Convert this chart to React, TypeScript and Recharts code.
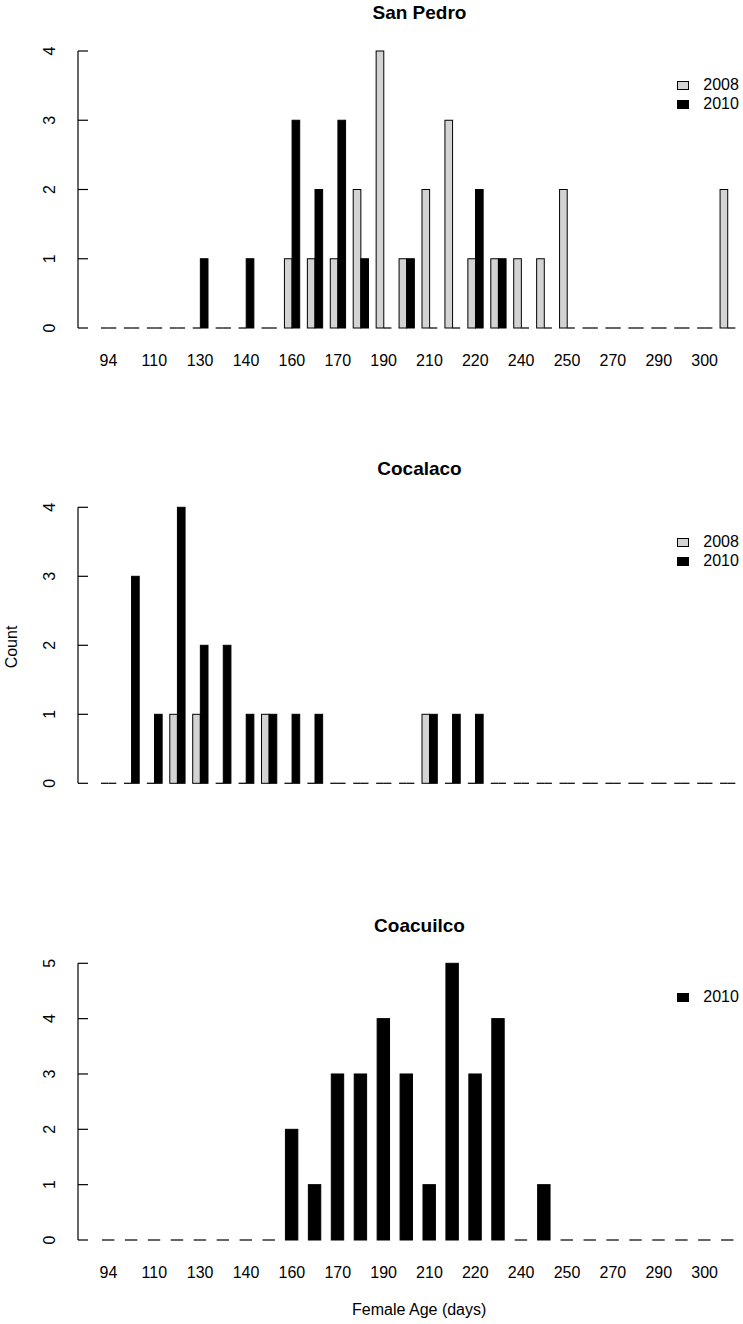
import React from 'react';
import { BarChart, Bar, XAxis, YAxis, Legend } from 'recharts';

// Female age classes (days); odd ones are hidden by the axis like in the original
const AGES = [94, 100, 110, 120, 130, 135, 140, 150, 160, 165, 170, 180, 190, 200, 210, 215, 220, 230, 240, 245, 250, 260, 270, 280, 290, 295, 300, 310];

// San Pedro counts
const SAN_PEDRO_2008 = [0, 0, 0, 0, 0, 0, 0, 0, 1, 1, 1, 2, 4, 1, 2, 3, 1, 1, 1, 1, 2, 0, 0, 0, 0, 0, 0, 2];
const SAN_PEDRO_2010 = [0, 0, 0, 0, 1, 0, 1, 0, 3, 2, 3, 1, 0, 1, 0, 0, 2, 1, 0, 0, 0, 0, 0, 0, 0, 0, 0, 0];

// Cocalaco counts
const COCALACO_2008 = [0, 0, 0, 1, 1, 0, 0, 1, 0, 0, 0, 0, 0, 0, 1, 0, 0, 0, 0, 0, 0, 0, 0, 0, 0, 0, 0, 0];
const COCALACO_2010 = [0, 3, 1, 4, 2, 2, 1, 1, 1, 1, 0, 0, 0, 0, 1, 1, 1, 0, 0, 0, 0, 0, 0, 0, 0, 0, 0, 0];

// Coacuilco counts (2010 only)
const COACUILCO_2010 = [0, 0, 0, 0, 0, 0, 0, 0, 2, 1, 3, 3, 4, 3, 1, 5, 3, 4, 0, 1, 0, 0, 0, 0, 0, 0, 0, 0];

const TICKS_4 = [0, 1, 2, 3, 4];
const TICKS_5 = [0, 1, 2, 3, 4, 5];

const FONT = '"Liberation Sans", Arial, Helvetica, sans-serif';
const GRAY = '#d3d3d3';
const BLACK = '#000000';

const sanPedro = AGES.map((age, i) => ({ age, y2008: SAN_PEDRO_2008[i], y2010: SAN_PEDRO_2010[i] }));
const cocalaco = AGES.map((age, i) => ({ age, y2008: COCALACO_2008[i], y2010: COCALACO_2010[i] }));
const coacuilco = AGES.map((age, i) => ({ age, y2010: COACUILCO_2010[i] }));

// R style bar: bordered rect, zero counts drawn as a flat line
const BarShape = (props: any) => {
  const { x, y, width, height, fill } = props;
  if (!height) {
    return <line x1={x} x2={x + width} y1={y} y2={y} stroke="#111" strokeWidth={1.3} />;
  }
  return <rect x={x} y={y} width={width} height={height} fill={fill} stroke={BLACK} strokeWidth={1} />;
};

// y ticks point inwards, labels rotated like las=0
const YTick = ({ x, y, payload }: any) => (
  <g>
    <line x1={x} x2={x + 10} y1={y} y2={y} stroke={BLACK} strokeWidth={1.2} />
    <text
      x={x - 23}
      y={y}
      transform={`rotate(-90, ${x - 23}, ${y})`}
      textAnchor="middle"
      fontSize={16}
      fontFamily={FONT}
      fill={BLACK}
    >
      {payload.value}
    </text>
  </g>
);

const XTick = ({ x, y, payload }: any) => (
  <text x={x} y={y} textAnchor="middle" fontSize={16} fontFamily={FONT} fill={BLACK}>
    {payload.value}
  </text>
);

const LegendBoxes = ({ payload }: any) => (
  <div style={{ fontFamily: FONT, fontSize: 16, color: BLACK }}>
    {(payload || []).map((p: any) => (
      <div key={p.value} style={{ display: 'flex', alignItems: 'center', height: 18.7, lineHeight: '18.7px' }}>
        <span
          style={{
            display: 'inline-block',
            boxSizing: 'border-box',
            width: 12,
            height: 9,
            marginLeft: 1,
            background: p.color,
            border: '1px solid #000',
          }}
        />
        <span style={{ marginLeft: 14.6, whiteSpace: 'nowrap' }}>{p.value}</span>
      </div>
    ))}
  </div>
);

const Panel = ({
  data,
  top,
  height,
  margin,
  ticks,
  showLabels,
  twoSeries,
  legendTop,
}: any) => (
  <div style={{ position: 'absolute', top, left: 0 }}>
    <BarChart
      width={743}
      height={height}
      data={data}
      margin={margin}
      barGap={0}
      barSize={twoSeries ? 7.64 : 12.4}
    >
      <XAxis
        dataKey="age"
        axisLine={false}
        tickLine={false}
        tickSize={0}
        tickMargin={38}
        interval={1}
        height={40}
        padding={{ left: 19, right: 0 }}
        tick={showLabels ? <XTick /> : false}
      />
      <YAxis
        width={60}
        domain={[0, ticks[ticks.length - 1]]}
        ticks={ticks}
        interval={0}
        tickLine={false}
        tickSize={0}
        tickMargin={0}
        axisLine={{ stroke: BLACK, strokeWidth: 1.2 }}
        tick={<YTick />}
      />
      <Legend
        layout="vertical"
        align="center"
        verticalAlign="middle"
        wrapperStyle={{ top: legendTop, left: 675.7, width: 66, overflow: 'visible' }}
        content={(props: any) => <LegendBoxes payload={props.payload} />}
      />
      {twoSeries && (
        <Bar dataKey="y2008" name="2008" fill={GRAY} shape={<BarShape />} isAnimationActive={false} />
      )}
      <Bar dataKey="y2010" name="2010" fill={BLACK} shape={<BarShape />} isAnimationActive={false} />
    </BarChart>
  </div>
);

export default function App() {
  return (
    <div
      style={{
        position: 'absolute',
        top: 0,
        left: 0,
        width: 743,
        height: 1324,
        background: '#fff',
        fontFamily: FONT,
      }}
    >
      <Panel
        data={sanPedro}
        top={0}
        height={380}
        margin={{ top: 51, right: 4, bottom: 12, left: 18 }}
        ticks={TICKS_4}
        showLabels
        twoSeries
        legendTop={76}
      />
      <Panel
        data={cocalaco}
        top={441}
        height={380}
        margin={{ top: 66.3, right: 4, bottom: -2.3, left: 18 }}
        ticks={TICKS_4}
        showLabels={false}
        twoSeries
        legendTop={92.4}
      />
      <Panel
        data={coacuilco}
        top={882}
        height={442}
        margin={{ top: 81.3, right: 4, bottom: 44, left: 18 }}
        ticks={TICKS_5}
        showLabels
        twoSeries={false}
        legendTop={106.2}
      />
      <svg
        width={743}
        height={1324}
        style={{ position: 'absolute', top: 0, left: 0, pointerEvents: 'none' }}
      >
        <g fontFamily={FONT} fill={BLACK} textAnchor="middle">
          <text x={419.5} y={18.5} fontSize={19} fontWeight="bold">San Pedro</text>
          <text x={419.5} y={475} fontSize={19} fontWeight="bold">Cocalaco</text>
          <text x={419.5} y={932} fontSize={19} fontWeight="bold">Coacuilco</text>
          <text x={16.5} y={647} fontSize={16} transform="rotate(-90, 16.5, 647)">Count</text>
          <text x={419.2} y={1315} fontSize={16}>Female Age (days)</text>
        </g>
      </svg>
    </div>
  );
}
